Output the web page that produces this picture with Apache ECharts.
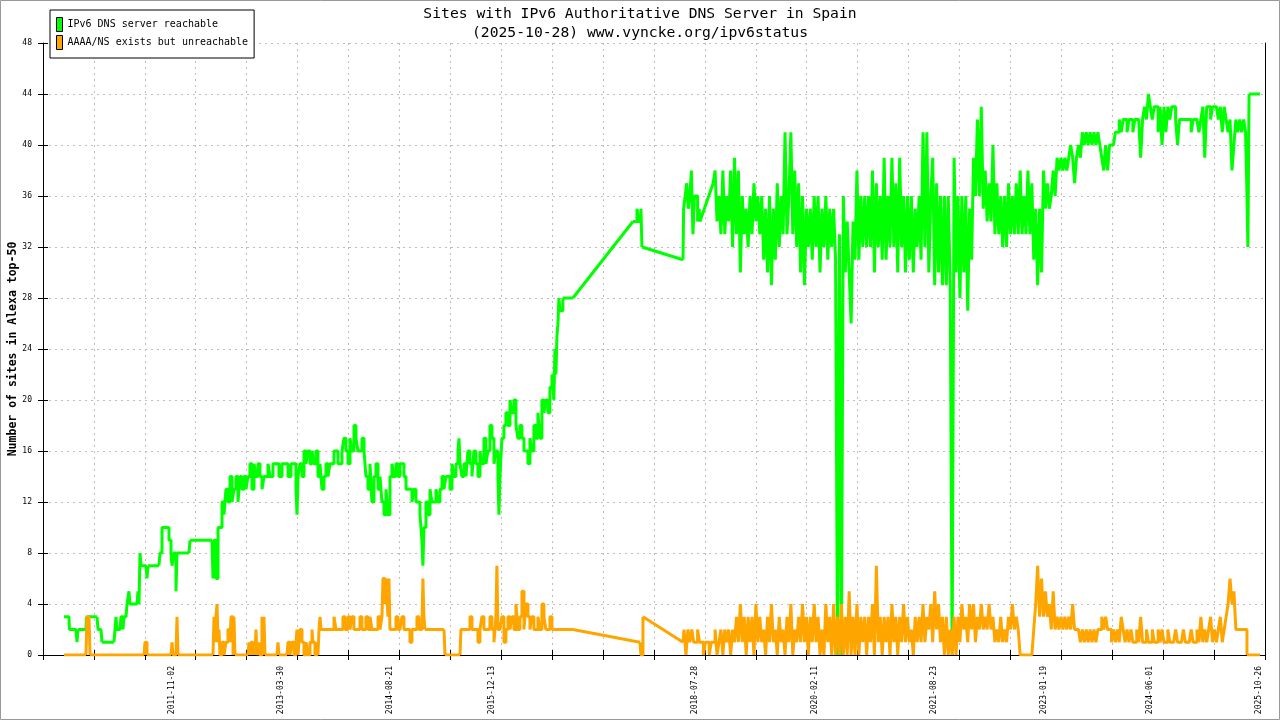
<!DOCTYPE html>
<html>
<head>
<meta charset="utf-8">
<script src="https://cdn.jsdelivr.net/npm/echarts@6/dist/echarts.min.js"></script>
<style>
html,body{margin:0;padding:0;background:#fff;}
#chart{width:1280px;height:720px;}
</style>
</head>
<body>
<div id="chart"></div>
<script>
// ---- Data (x = decimal year, y = number of sites) ----
const titleLines = ['Sites with IPv6 Authoritative DNS Server in Spain', '(2025-10-28) www.vyncke.org/ipv6status'];
const seriesNames = ['IPv6 DNS server reachable', 'AAAA/NS exists but unreachable'];
const yAxisName = 'Number of sites in Alexa top-50';
const xTickLabels = ['2011-11-02','2013-03-30','2014-08-21','2015-12-13','2018-07-28','2020-02-11','2021-08-23','2023-01-19','2024-06-01','2025-10-26'];
const xRange = [2010.178, 2025.900];
const yRange = [0, 48];
const yStep = 4;

const reachable = [
[2010.448,3],[2010.512,3],[2010.518,2],[2010.603,2],[2010.615,1],[2010.628,2],[2010.731,2],[2010.737,3],[2010.873,3],[2010.886,2],[2010.924,2],[2010.937,1],[2011.091,1],[2011.104,2],[2011.117,3],[2011.130,2],[2011.169,2],[2011.181,3],[2011.207,2],[2011.220,3],[2011.246,3],[2011.259,4],[2011.284,5],[2011.297,4],[2011.387,4],[2011.400,5],[2011.413,4],[2011.426,8],[2011.439,7],[2011.503,7],[2011.516,6],[2011.529,7],[2011.670,7],[2011.683,8],[2011.709,10],[2011.773,10],[2011.799,9],[2011.825,8],[2011.838,7],[2011.863,8],[2011.889,5],[2011.902,8],[2012.056,8],[2012.069,9],[2012.352,9],
[2012.365,6],[2012.378,9],[2012.404,6],[2012.430,10],
[2012.455,10],[2012.481,12],[2012.507,11],[2012.532,13],[2012.558,12],[2012.584,14],[2012.610,12],[2012.635,13],[2012.661,14],[2012.687,12],[2012.712,14],[2012.738,13],[2012.764,14],[2012.790,13],[2012.815,14],[2012.841,15],[2012.867,13],[2012.893,15],[2012.918,14],[2012.944,15],[2012.970,14],[2012.996,13],[2013.021,14],[2013.047,14],[2013.073,15],[2013.098,14],[2013.137,15],[2013.176,15],[2013.214,14],[2013.253,15],[2013.291,15],[2013.330,14],[2013.369,15],[2013.407,15],[2013.433,13],[2013.446,11],[2013.459,14],[2013.484,15],[2013.510,14],[2013.536,16],[2013.562,15],[2013.587,16],[2013.613,15],[2013.639,16],[2013.664,15],[2013.690,16],[2013.716,14],[2013.742,15],[2013.767,13],[2013.793,14],[2013.819,15],[2013.845,14],[2013.870,15],[2013.896,15],[2013.922,16],[2013.947,16],[2013.973,15],[2013.999,15],
[2014.025,16],[2014.050,17],[2014.076,16],[2014.102,15],[2014.128,17],[2014.153,16],[2014.179,18],[2014.205,17],[2014.230,16],[2014.256,16],[2014.282,17],[2014.308,16],[2014.333,14],[2014.359,13],[2014.385,15],[2014.410,12],[2014.436,14],[2014.462,15],[2014.488,13],[2014.514,14],[2014.539,12],[2014.565,11],[2014.591,13],[2014.616,11],[2014.642,14],[2014.668,15],[2014.693,14],[2014.719,15],[2014.745,14],[2014.771,15],[2014.796,15],[2014.822,14],[2014.848,13],[2014.873,13],[2014.899,13],[2014.925,12],[2014.950,13],[2014.976,12],
[2015.002,12],[2015.028,11],[2015.053,9],[2015.066,7],[2015.079,10],[2015.105,12],[2015.131,11],[2015.157,13],[2015.182,12],[2015.208,12],[2015.234,13],[2015.259,12],[2015.285,13],[2015.311,14],[2015.337,13],[2015.362,14],[2015.388,14],[2015.414,13],[2015.440,15],[2015.465,14],[2015.491,15],[2015.517,16],[2015.530,17],[2015.543,15],[2015.568,14],[2015.594,15],[2015.620,14],[2015.645,16],[2015.671,15],[2015.697,14],[2015.722,16],[2015.748,15],[2015.774,14],[2015.800,16],[2015.825,15],[2015.851,17],[2015.877,15],[2015.902,16],[2015.928,18],[2015.954,17],[2015.980,15],
[2016.005,16],[2016.031,14],[2016.044,11],[2016.057,14],[2016.082,17],[2016.108,18],[2016.134,19],[2016.160,18],[2016.186,20],[2016.211,19],[2016.237,20],[2016.263,18],[2016.288,17],[2016.314,18],[2016.340,17],[2016.366,16],[2016.391,16],[2016.417,15],[2016.443,17],[2016.468,16],[2016.494,18],[2016.520,17],[2016.546,19],[2016.571,17],[2016.597,20],[2016.623,19],[2016.648,20],[2016.674,19],[2016.700,21],[2016.726,22],[2016.751,20],[2016.764,24],[2016.777,22],[2016.790,25],[2016.803,26],[2016.816,28],[2016.829,27],[2016.854,27],[2016.867,28],[2016.996,28],
[2017.768,34],[2017.794,34],[2017.820,35],[2017.845,34],[2017.871,35],[2017.884,32],[2018.412,31],
[2018.420,35],[2018.440,36],[2018.460,37],[2018.480,35],[2018.500,36],[2018.520,38],[2018.540,33],[2018.560,36],[2018.580,36],[2018.600,34],[2018.620,35],[2018.630,34],[2018.800,37],
[2018.825,38],[2018.850,34],[2018.875,36],[2018.900,33],[2018.925,38],[2018.950,33],[2018.975,36],[2019.000,34],[2019.025,38],[2019.050,32],[2019.075,39],[2019.100,33],[2019.125,38],[2019.150,30],[2019.175,36],[2019.200,33],[2019.225,35],[2019.250,32],[2019.275,36],[2019.300,33],[2019.325,37],[2019.350,34],[2019.375,36],[2019.400,33],[2019.425,36],[2019.450,31],[2019.475,35],[2019.500,30],[2019.525,36],[2019.550,29],[2019.575,35],[2019.600,31],[2019.625,37],[2019.650,32],[2019.675,36],[2019.700,33],[2019.725,41],[2019.750,33],[2019.775,36],[2019.800,41],[2019.825,33],[2019.850,38],[2019.875,32],[2019.900,37],[2019.925,30],[2019.950,36],[2019.975,29],
[2020.000,35],[2020.025,32],[2020.050,35],[2020.075,31],[2020.100,36],[2020.125,32],[2020.150,36],[2020.175,30],[2020.200,35],[2020.225,32],[2020.250,36],[2020.275,31],[2020.300,35],[2020.325,32],[2020.350,35],[2020.375,31],[2020.400,0],[2020.425,33],[2020.450,0],[2020.475,36],[2020.500,30],[2020.525,34],[2020.550,30],[2020.575,26],[2020.600,34],[2020.625,31],[2020.650,38],[2020.675,31],[2020.700,36],[2020.725,32],[2020.750,36],[2020.775,32],[2020.800,36],[2020.825,32],[2020.850,38],[2020.875,30],[2020.900,37],[2020.925,32],[2020.950,36],[2020.975,31],
[2021.000,39],[2021.025,31],[2021.050,36],[2021.075,32],[2021.100,39],[2021.125,32],[2021.150,37],[2021.175,30],[2021.200,39],[2021.225,32],[2021.250,36],[2021.275,30],[2021.300,36],[2021.325,31],[2021.350,36],[2021.375,30],[2021.400,35],[2021.425,32],[2021.450,36],[2021.475,31],[2021.500,41],[2021.525,32],[2021.550,41],[2021.575,30],[2021.600,36],[2021.625,39],[2021.650,29],[2021.675,37],[2021.700,30],[2021.725,36],[2021.750,29],[2021.775,36],[2021.800,29],[2021.825,36],[2021.850,29],[2021.875,0],[2021.900,39],[2021.925,30],[2021.950,36],[2021.975,28],
[2022.000,36],[2022.025,30],[2022.050,36],[2022.075,27],[2022.100,35],[2022.125,31],[2022.150,39],[2022.175,36],[2022.200,42],[2022.225,36],[2022.250,43],[2022.275,35],[2022.300,38],[2022.325,34],[2022.350,37],[2022.375,34],[2022.400,40],[2022.425,33],[2022.450,37],[2022.475,33],[2022.500,36],[2022.525,32],[2022.550,36],[2022.575,32],[2022.600,37],[2022.625,33],[2022.650,36],[2022.675,33],[2022.700,37],[2022.725,33],[2022.750,38],[2022.775,33],[2022.800,36],[2022.825,33],[2022.850,38],[2022.875,33],[2022.900,37],[2022.925,31],[2022.950,35],[2022.975,29],
[2023.000,35],[2023.025,30],[2023.050,38],[2023.075,35],[2023.100,37],[2023.125,35],[2023.150,36],[2023.175,38],[2023.200,36],[2023.225,39],[2023.250,38],[2023.275,39],[2023.300,38],[2023.325,39],[2023.350,38],[2023.375,39],[2023.400,40],[2023.425,39],[2023.450,37],[2023.475,39],[2023.500,40],[2023.525,39],[2023.550,41],[2023.575,40],[2023.600,41],[2023.625,40],[2023.650,41],[2023.675,40],[2023.700,41],[2023.725,40],[2023.750,41],[2023.775,40],[2023.800,39],[2023.825,38],[2023.850,40],[2023.875,38],[2023.900,40],[2023.925,40],[2023.950,40],[2023.975,41],
[2024.000,41],[2024.025,42],[2024.050,41],[2024.075,42],[2024.100,42],[2024.125,41],[2024.150,42],[2024.175,42],[2024.200,41],[2024.225,42],[2024.250,42],[2024.275,42],[2024.300,39],[2024.325,42],[2024.350,43],[2024.375,42],[2024.400,44],[2024.425,43],[2024.450,42],[2024.475,43],[2024.500,43],[2024.525,41],[2024.550,43],[2024.575,40],[2024.600,43],[2024.625,41],[2024.650,43],[2024.675,42],[2024.700,43],[2024.725,43],[2024.750,42],[2024.775,40],[2024.800,42],[2024.825,42],[2024.850,42],[2024.875,42],[2024.900,42],[2024.925,42],[2024.950,41],[2024.975,42],
[2025.000,42],[2025.025,42],[2025.050,41],[2025.075,42],[2025.100,43],[2025.125,39],[2025.150,43],[2025.175,43],[2025.200,42],[2025.225,43],[2025.250,43],[2025.275,43],[2025.300,42],[2025.325,43],[2025.350,41],[2025.375,43],[2025.400,42],[2025.425,41],[2025.450,42],[2025.475,38],[2025.500,40],[2025.525,42],[2025.550,41],[2025.575,42],[2025.600,41],[2025.625,42],[2025.650,41],[2025.665,37],[2025.680,32],[2025.695,44],[2025.835,44]
];

const unreachable = [
[2010.448,0],[2010.731,0],[2010.744,3],[2010.770,3],[2010.783,0],[2011.477,0],[2011.490,1],[2011.516,0],[2011.825,0],[2011.838,1],[2011.850,0],[2011.889,0],[2011.902,3],[2011.915,0],[2012.365,0],[2012.378,3],[2012.391,1],[2012.404,3],[2012.417,4],[2012.430,1],[2012.442,2],[2012.455,0],[2012.481,1],[2012.507,0],[2012.532,1],[2012.558,2],[2012.584,1],[2012.597,3],[2012.623,0],[2012.635,3],[2012.648,0],[2012.815,0],[2012.828,1],[2012.841,0],[2012.853,1],[2012.879,0],[2012.892,1],[2012.905,0],[2012.918,2],[2012.931,0],[2012.956,1],[2012.969,0],[2012.995,3],[2013.008,1],[2013.021,3],[2013.034,0],[2013.189,0],[2013.201,1],[2013.214,0],[2013.317,0],[2013.330,1],[2013.356,0],[2013.381,1],[2013.407,0],[2013.433,1],[2013.446,2],[2013.459,0],[2013.484,2],[2013.510,1],[2013.536,0],[2013.562,1],[2013.587,0],[2013.613,1],[2013.639,2],[2013.651,1],[2013.677,0],[2013.703,1],[2013.716,0],[2013.729,2],[2013.742,3],[2013.755,2],[2013.767,2],[2013.870,2],[2013.922,3],[2013.947,2],[2013.999,2],
[2014.037,3],[2014.063,2],[2014.102,3],[2014.128,2],[2014.153,3],[2014.179,2],[2014.230,2],[2014.256,3],[2014.282,2],[2014.333,3],[2014.359,2],[2014.385,3],[2014.410,2],[2014.462,2],[2014.488,3],[2014.514,2],[2014.539,3],[2014.552,6],[2014.578,4],[2014.591,6],[2014.616,3],[2014.629,6],[2014.642,2],[2014.693,2],[2014.719,3],[2014.745,2],[2014.771,2],[2014.796,3],[2014.822,2],[2014.873,2],[2014.899,1],[2014.925,2],[2014.963,2],[2014.989,3],
[2015.015,2],[2015.053,2],[2015.066,6],[2015.079,3],[2015.092,2],[2015.337,2],[2015.350,0],[2015.543,0],[2015.555,2],[2015.645,2],[2015.671,3],[2015.697,2],[2015.748,2],[2015.774,1],[2015.800,2],[2015.825,3],[2015.851,2],[2015.902,2],[2015.928,3],[2015.954,2],[2015.980,1],
[2016.005,3],[2016.018,7],[2016.031,2],[2016.057,2],[2016.082,3],[2016.108,1],[2016.134,2],[2016.160,3],[2016.186,2],[2016.211,3],[2016.237,2],[2016.263,4],[2016.288,2],[2016.314,3],[2016.340,5],[2016.366,2],[2016.391,4],[2016.417,3],[2016.443,2],[2016.468,3],[2016.494,2],[2016.520,2],[2016.546,3],[2016.571,2],[2016.597,4],[2016.623,3],[2016.648,2],[2016.674,2],[2016.700,3],[2016.726,2],[2016.764,2],[2016.996,2],
[2017.858,1],[2017.871,0],[2017.897,3],[2018.412,1],
[2018.425,2],[2018.450,0],[2018.475,2],[2018.500,1],[2018.525,2],[2018.550,1],[2018.575,1],[2018.600,2],[2018.625,1],[2018.650,1],[2018.675,0],[2018.700,1],[2018.725,1],[2018.750,0],[2018.775,1],[2018.800,1],[2018.825,2],[2018.850,0],[2018.875,1],[2018.900,2],[2018.925,0],[2018.950,2],[2018.975,1],
[2019.000,2],[2019.025,0],[2019.050,2],[2019.075,1],[2019.100,3],[2019.125,1],[2019.150,4],[2019.175,1],[2019.200,3],[2019.225,0],[2019.250,3],[2019.275,1],[2019.300,3],[2019.325,0],[2019.350,4],[2019.375,1],[2019.400,3],[2019.425,1],[2019.450,2],[2019.475,0],[2019.500,3],[2019.525,1],[2019.550,4],[2019.575,1],[2019.600,2],[2019.625,0],[2019.650,3],[2019.675,1],[2019.700,2],[2019.725,0],[2019.750,3],[2019.775,1],[2019.800,4],[2019.825,0],[2019.850,2],[2019.875,1],[2019.900,3],[2019.925,1],[2019.950,4],[2019.975,1],
[2020.000,3],[2020.025,0],[2020.050,3],[2020.075,1],[2020.100,4],[2020.125,1],[2020.150,3],[2020.175,0],[2020.200,2],[2020.225,0],[2020.250,4],[2020.275,1],[2020.300,3],[2020.325,0],[2020.350,4],[2020.375,0],[2020.400,3],[2020.425,0],[2020.450,4],[2020.475,0],[2020.500,3],[2020.525,0],[2020.550,5],[2020.575,0],[2020.600,3],[2020.625,0],[2020.650,4],[2020.675,0],[2020.700,3],[2020.725,1],[2020.750,3],[2020.775,0],[2020.800,3],[2020.825,1],[2020.850,4],[2020.875,0],[2020.900,7],[2020.925,1],[2020.950,3],[2020.975,0],
[2021.000,3],[2021.025,1],[2021.050,3],[2021.075,0],[2021.100,4],[2021.125,1],[2021.150,3],[2021.175,0],[2021.200,3],[2021.225,1],[2021.250,4],[2021.275,1],[2021.300,3],[2021.325,1],[2021.350,2],[2021.375,0],[2021.400,3],[2021.425,1],[2021.450,3],[2021.475,1],[2021.500,4],[2021.525,1],[2021.550,3],[2021.575,2],[2021.600,4],[2021.625,1],[2021.650,5],[2021.675,2],[2021.700,4],[2021.725,1],[2021.750,3],[2021.775,0],[2021.800,3],[2021.825,0],[2021.850,2],[2021.875,0],[2021.900,3],[2021.925,0],[2021.950,3],[2021.975,1],
[2022.000,4],[2022.025,2],[2022.050,3],[2022.075,1],[2022.100,4],[2022.125,2],[2022.150,4],[2022.175,1],[2022.200,3],[2022.225,2],[2022.250,4],[2022.275,2],[2022.300,3],[2022.325,2],[2022.350,4],[2022.375,2],[2022.400,3],[2022.425,1],[2022.450,2],[2022.475,1],[2022.500,3],[2022.525,1],[2022.550,2],[2022.575,1],[2022.600,3],[2022.625,2],[2022.650,4],[2022.675,2],[2022.700,3],[2022.725,2],[2022.750,0],[2022.775,0],[2022.800,0],[2022.825,0],[2022.850,0],[2022.875,0],[2022.900,0],[2022.925,2],[2022.950,4],[2022.975,7],
[2023.000,3],[2023.025,6],[2023.050,3],[2023.075,5],[2023.100,3],[2023.125,4],[2023.150,2],[2023.175,5],[2023.200,2],[2023.225,3],[2023.250,2],[2023.275,3],[2023.300,2],[2023.325,3],[2023.350,2],[2023.375,3],[2023.400,2],[2023.425,4],[2023.450,2],[2023.475,2],[2023.500,2],[2023.525,1],[2023.550,2],[2023.575,1],[2023.600,2],[2023.625,1],[2023.650,2],[2023.675,1],[2023.700,2],[2023.725,1],[2023.750,2],[2023.775,2],[2023.800,3],[2023.825,2],[2023.850,3],[2023.875,2],[2023.900,2],[2023.925,1],[2023.950,2],[2023.975,1],
[2024.000,2],[2024.025,1],[2024.050,3],[2024.075,2],[2024.100,1],[2024.125,2],[2024.150,1],[2024.175,2],[2024.200,1],[2024.225,1],[2024.250,2],[2024.275,1],[2024.300,3],[2024.325,1],[2024.350,1],[2024.375,2],[2024.400,1],[2024.425,1],[2024.450,2],[2024.475,1],[2024.500,1],[2024.525,2],[2024.550,1],[2024.575,2],[2024.600,1],[2024.625,1],[2024.650,2],[2024.675,1],[2024.700,1],[2024.725,1],[2024.750,2],[2024.775,1],[2024.800,1],[2024.825,1],[2024.850,2],[2024.875,1],[2024.900,1],[2024.925,1],[2024.950,2],[2024.975,1],
[2025.000,1],[2025.025,2],[2025.050,1],[2025.075,3],[2025.100,1],[2025.125,2],[2025.150,1],[2025.175,2],[2025.200,3],[2025.225,1],[2025.250,2],[2025.275,1],[2025.300,2],[2025.325,3],[2025.350,1],[2025.375,2],[2025.400,3],[2025.425,4],[2025.450,6],[2025.475,4],[2025.500,5],[2025.525,2],[2025.550,2],[2025.575,2],[2025.600,2],[2025.625,2],[2025.650,2],[2025.668,0],[2025.835,0]
];

// ---- helpers ----
function toYear(s) {
  const p = s.split('-').map(Number);
  const t = Date.UTC(p[0], p[1] - 1, p[2]);
  const a = Date.UTC(p[0], 0, 1), b = Date.UTC(p[0] + 1, 0, 1);
  return p[0] + (t - a) / (b - a);
}
// Dense daily-like stretches are drawn as steps; long gaps between samples are drawn straight.
const MAX_STEP_GAP = 0.1;
function splitSeries(data) {
  const steps = [], spans = [];
  for (let i = 0; i < data.length; i++) {
    steps.push(data[i]);
    if (i + 1 < data.length && data[i + 1][0] - data[i][0] > MAX_STEP_GAP) {
      steps.push([data[i][0], null]);
      spans.push(data[i], data[i + 1], [data[i + 1][0], null]);
    }
  }
  return {steps: steps, spans: spans};
}
const labelYears = xTickLabels.map(toYear);
const MONO = 'DejaVu Sans Mono';
const xInterval = (xRange[1] - xRange[0]) / 24;
const colors = ['#00ff00', '#ffa500'];
const parts = [splitSeries(reachable), splitSeries(unreachable)];

const chart = echarts.init(document.getElementById('chart'), null, {renderer: 'canvas'});
const gridLine = {show: true, lineStyle: {color: '#bdbdbd', type: [2, 4], width: 1}};

const series = [];
parts.forEach(function (p, k) {
  series.push({
    name: seriesNames[k], type: 'line', data: p.steps, step: 'end',
    showSymbol: false, symbol: 'none', connectNulls: false,
    color: colors[k], lineStyle: {color: colors[k], width: 3},
    z: 2 + k * 2
  });
  series.push({
    name: seriesNames[k], type: 'line', data: p.spans,
    showSymbol: false, symbol: 'none', connectNulls: false,
    color: colors[k], lineStyle: {color: colors[k], width: 3},
    z: 2 + k * 2
  });
});

chart.setOption({
  animation: false,
  backgroundColor: '#ffffff',
  title: {
    text: titleLines.join('\n'),
    left: 'center',
    top: 0,
    textStyle: {fontFamily: MONO, fontSize: 14.7, fontWeight: 'normal', color: '#000', lineHeight: 19}
  },
  legend: {
    left: 50, top: 10,
    orient: 'vertical',
    padding: [7, 6, 8, 6],
    itemGap: 3,
    itemWidth: 6, itemHeight: 14,
    icon: 'rect',
    backgroundColor: '#fff',
    borderColor: '#000', borderWidth: 1,
    itemStyle: {borderColor: '#000', borderWidth: 1},
    textStyle: {fontFamily: MONO, fontSize: 10, color: '#000', lineHeight: 12, padding: [2, 0, 0, 0]},
    data: seriesNames
  },
  graphic: [{
    type: 'rect', silent: true, z: 100,
    shape: {x: 0.5, y: 0.5, width: 1279, height: 719},
    style: {fill: 'none', stroke: '#999', lineWidth: 1}
  }],
  grid: {left: 43, right: 15, top: 43, bottom: 65, containLabel: false, outerBoundsMode: 'none'},
  xAxis: [{
    type: 'value', min: xRange[0], max: xRange[1], interval: xInterval,
    axisLine: {show: true, onZero: false, lineStyle: {color: '#000', width: 1}},
    axisTick: {show: true, length: 5, lineStyle: {color: '#000'}},
    splitLine: gridLine,
    axisLabel: {
      customValues: labelYears,
      rotate: 90, margin: 11,
      fontFamily: MONO, fontSize: 8, color: '#000',
      formatter: function (v) {
        let best = 0, bd = Infinity;
        labelYears.forEach(function (y, i) { const d = Math.abs(y - v); if (d < bd) { bd = d; best = i; } });
        return xTickLabels[best];
      }
    }
  }, {
    type: 'value', min: xRange[0], max: xRange[1], interval: xInterval, position: 'bottom',
    axisLine: {show: false, onZero: false},
    axisTick: {show: true, inside: true, length: 5, lineStyle: {color: '#000'}},
    axisLabel: {show: false}, splitLine: {show: false}
  }],
  yAxis: [{
    type: 'value', min: yRange[0], max: yRange[1], interval: yStep, position: 'left',
    name: yAxisName, nameLocation: 'middle', nameRotate: 90, nameGap: 24, nameMoveOverlap: false,
    nameTextStyle: {fontFamily: MONO, fontSize: 11.5, fontWeight: 'bold', color: '#000'},
    axisLine: {show: true, lineStyle: {color: '#000', width: 1}},
    axisTick: {show: true, length: 5, lineStyle: {color: '#000'}},
    splitLine: gridLine,
    axisLabel: {fontFamily: MONO, fontSize: 8, color: '#000', margin: 11}
  }, {
    type: 'value', min: yRange[0], max: yRange[1], interval: yStep, position: 'right',
    axisLine: {show: true, lineStyle: {color: '#000', width: 1}},
    axisTick: {show: false}, axisLabel: {show: false}, splitLine: {show: false}
  }, {
    type: 'value', min: yRange[0], max: yRange[1], interval: yStep, position: 'left',
    axisLine: {show: false},
    axisTick: {show: true, inside: true, length: 5, lineStyle: {color: '#000'}},
    axisLabel: {show: false}, splitLine: {show: false}
  }],
  series: series
});
</script>
</body>
</html>
